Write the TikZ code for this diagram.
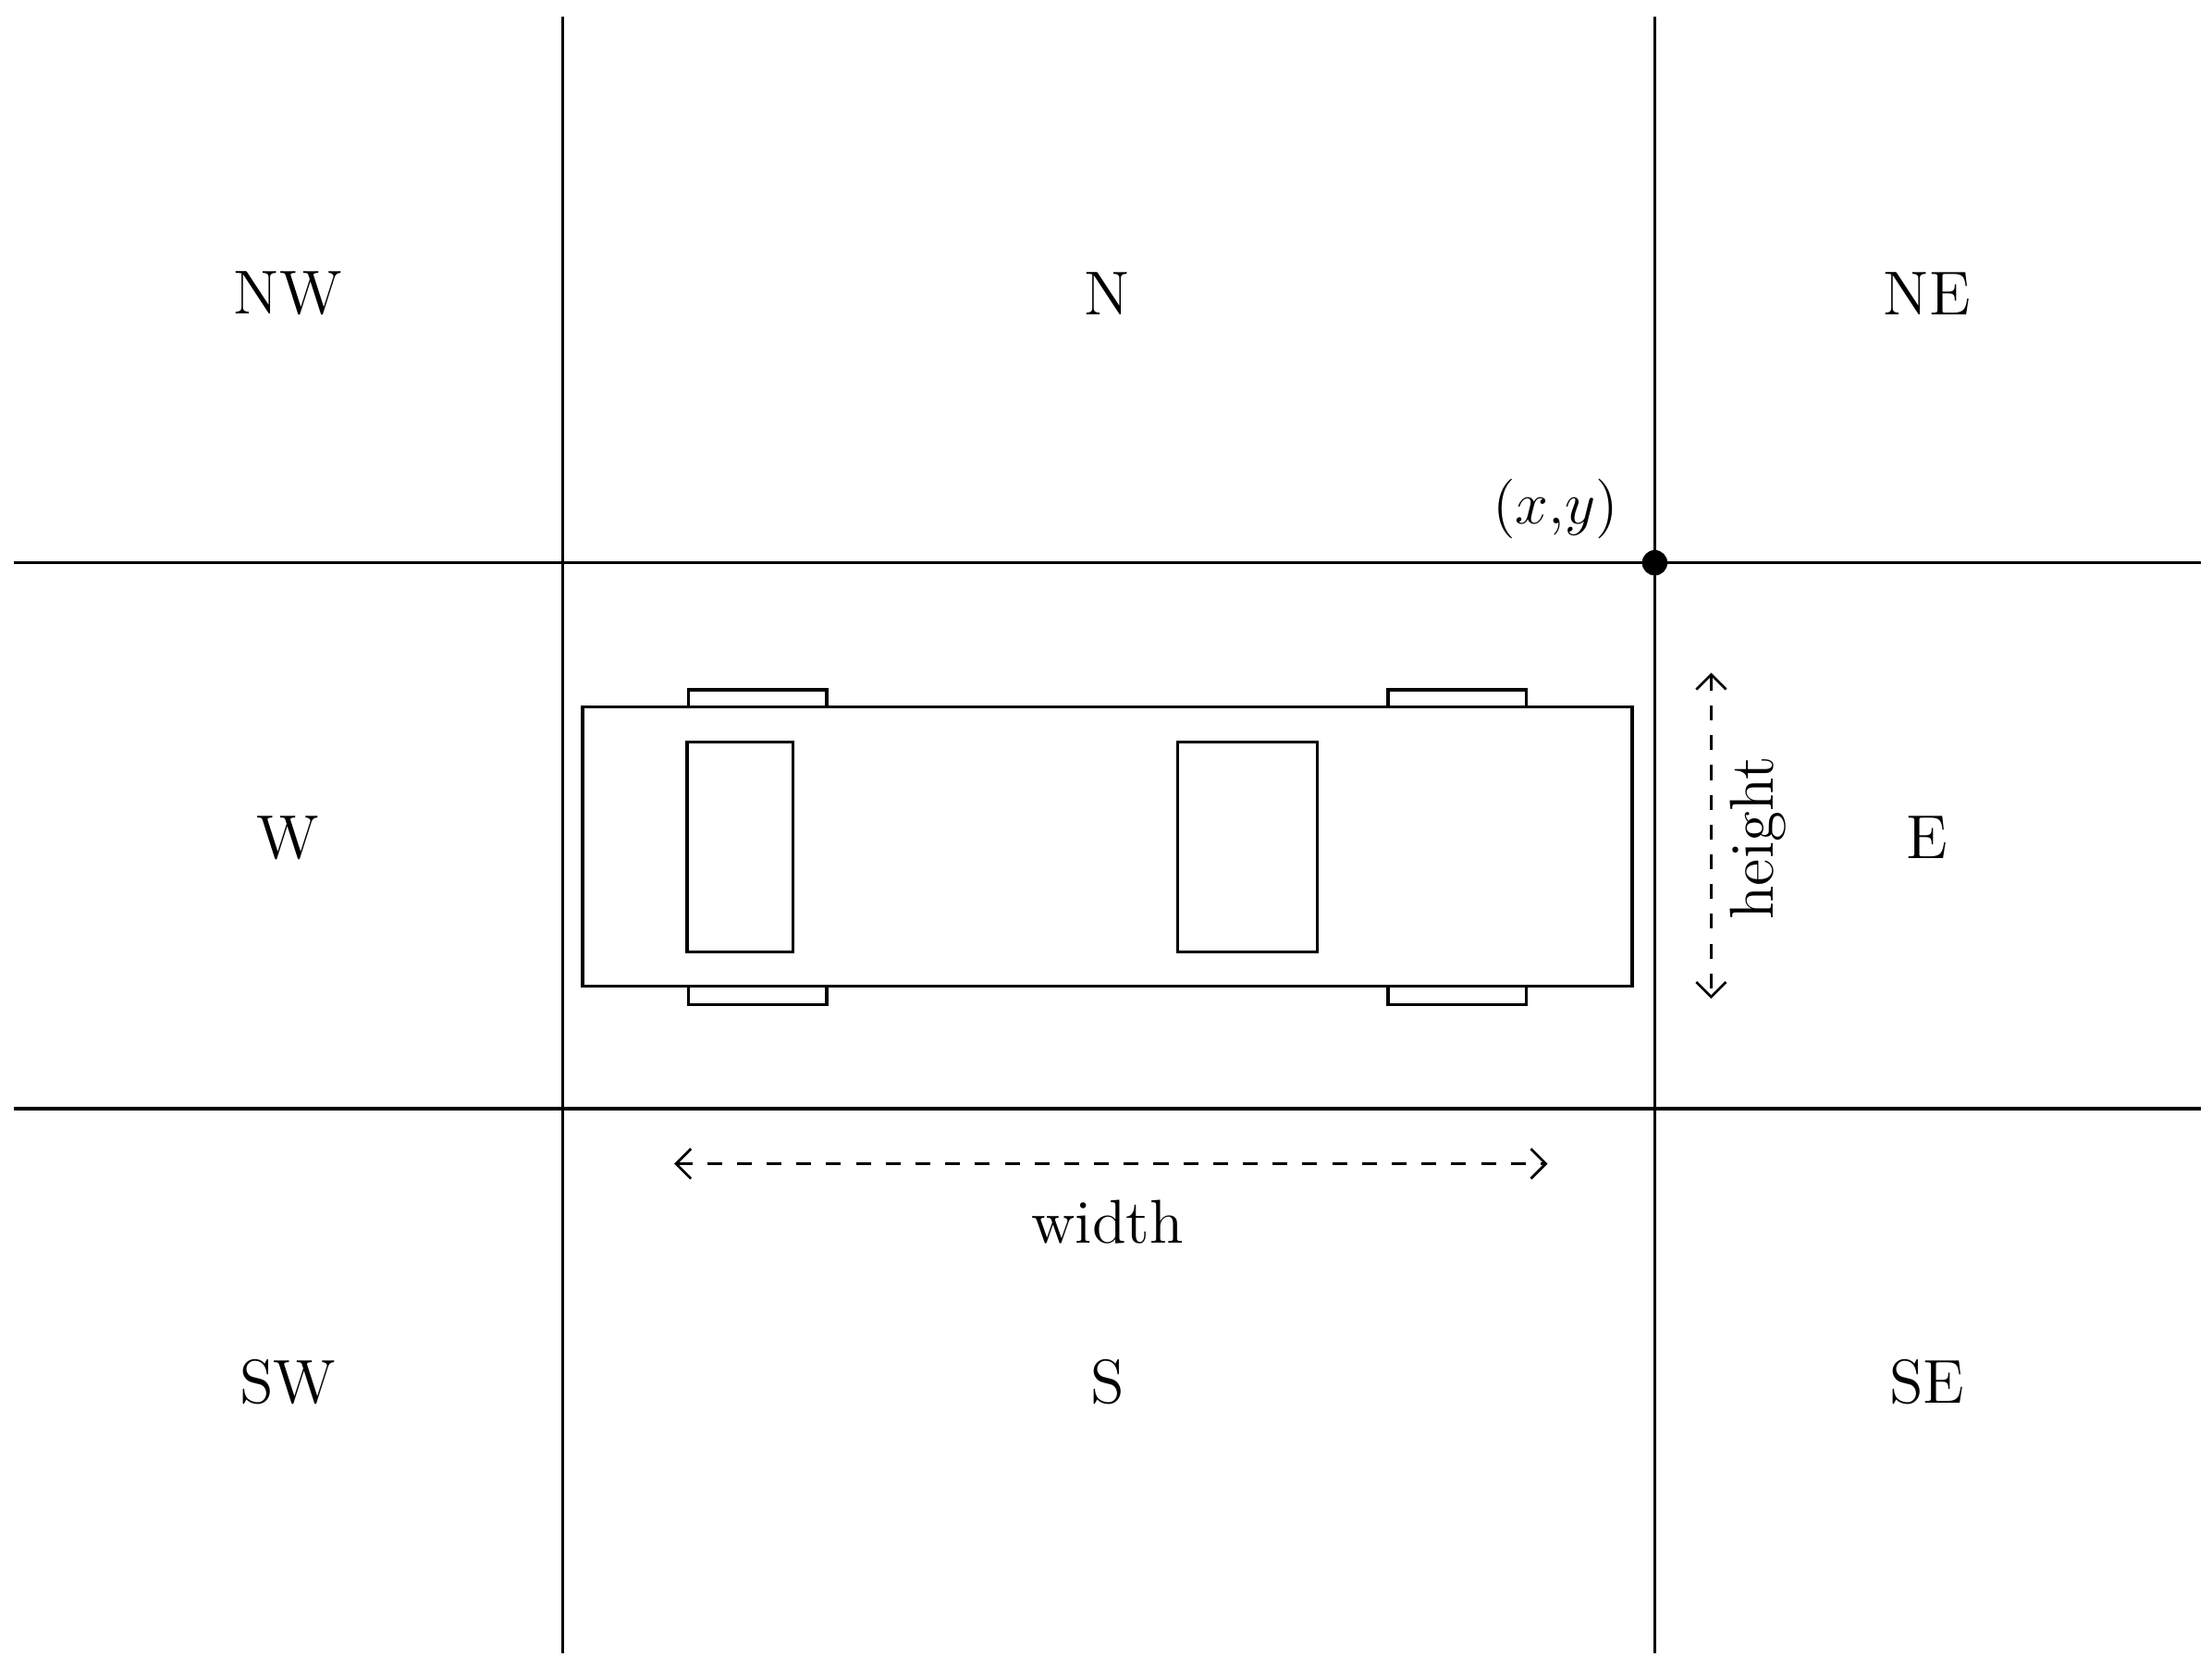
\documentclass[tikz,border=0pt]{standalone}
\usetikzlibrary{arrows.meta}
\begin{document}
\begin{tikzpicture}[x=0.01cm,y=-0.01cm,line width=0.6pt,
  lbl/.style={font=\fontsize{12.5}{15}\selectfont,inner sep=0pt},
  dim/.style={dashed,line width=0.5pt,{Straight Barb[length=3pt]}-{Straight Barb[length=3pt]}}]
\useasboundingbox (0,0) rectangle (1568,1183);
% grid
\draw (399,12) -- (399,1172);
\draw (1173,12) -- (1173,1172);
\draw (10,399) -- (1560,399);
\draw (10,786) -- (1560,786);
\coordinate (p) at (1173,399);
\fill (p) circle (9);
\node[lbl,anchor=south east] (xy) at (1148,383) {$(x{,}y)$};
% region labels
\node[lbl] (nw) at (204,208) {NW};
\node[lbl] (n) at (785,208) {N};
\node[lbl] (ne) at (1366,208) {NE};
\node[lbl] (w) at (204,594) {W};
\node[lbl] (e) at (1366,594) {E};
\node[lbl] (sw) at (204,980) {SW};
\node[lbl] (s) at (785,980) {S};
\node[lbl] (se) at (1366,980) {SE};
% car
\draw (488,489) rectangle (586,501);
\draw (984,489) rectangle (1082,501);
\draw (488,699) rectangle (586,712);
\draw (984,699) rectangle (1082,712);
\draw (413,501) rectangle (1157,699);
\draw (487,526) rectangle (562,675);
\draw (835,526) rectangle (934,675);
% dimensions
\coordinate (wa) at (478,825);
\coordinate (wb) at (1097,825);
\draw[dim] (wa) -- (wb);
\node[lbl] (wl) at (785,866) {width};
\coordinate (ha) at (1213,477);
\coordinate (hb) at (1213,708);
\draw[dim] (ha) -- (hb);
\node[lbl,rotate=90] (hl) at (1246,594) {height};
\end{tikzpicture}
\end{document}
